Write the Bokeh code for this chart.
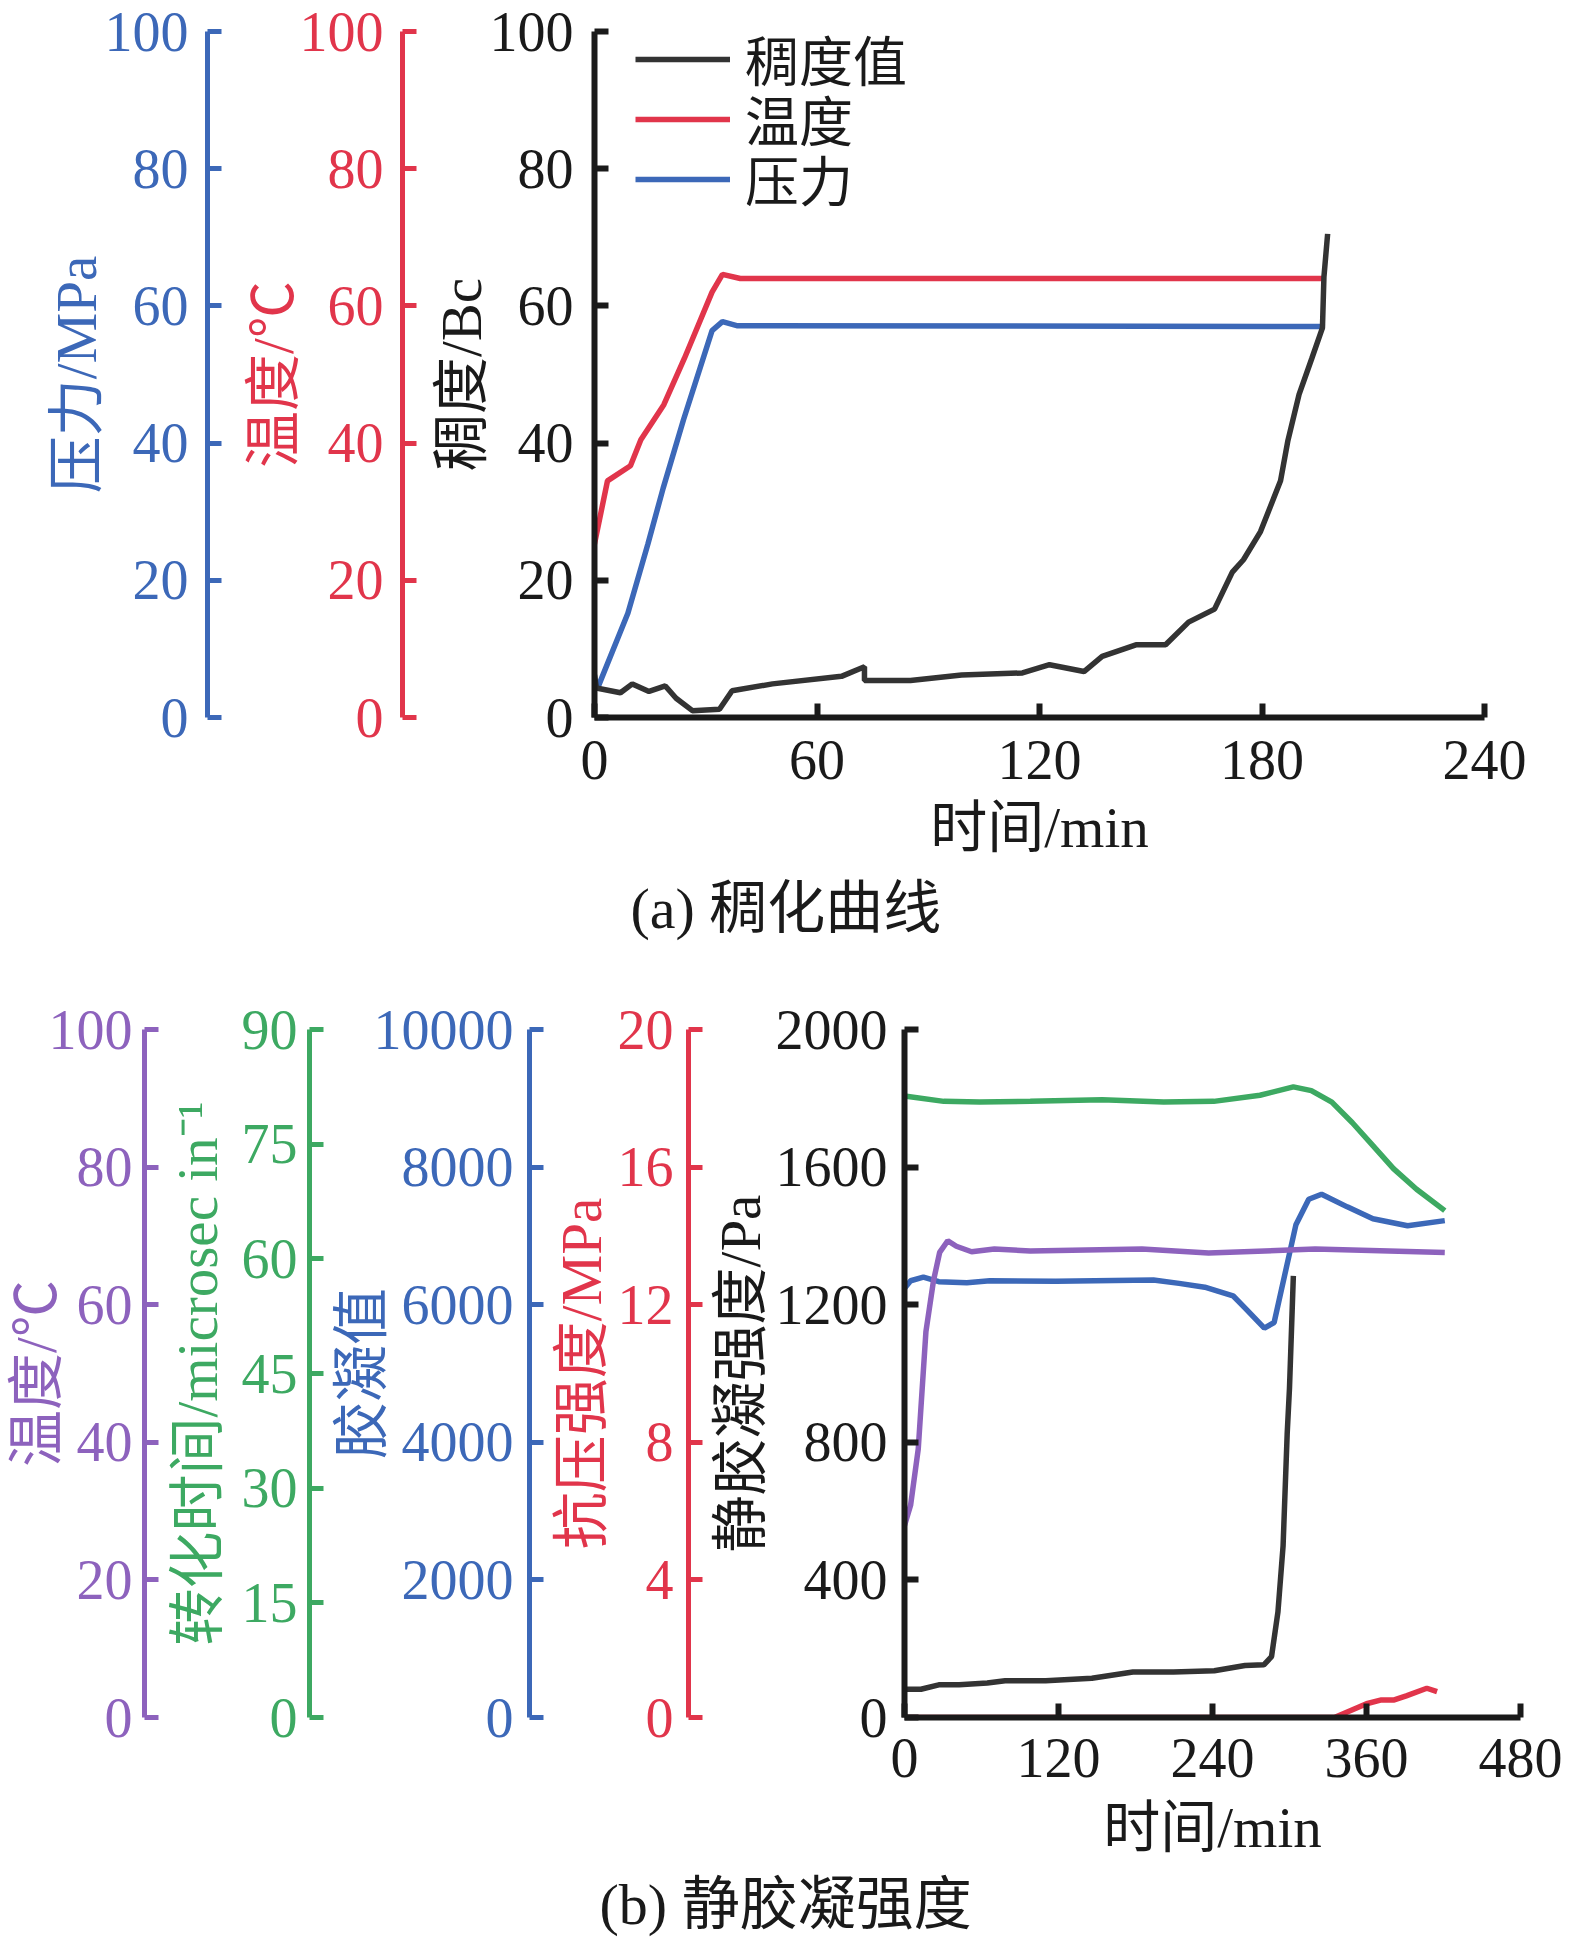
from bokeh.plotting import figure
from bokeh.models import LinearAxis, Range1d, FixedTicker, Legend, LegendItem, Title
from bokeh.embed import file_html
from bokeh.resources import INLINE

# ---------------- Panel (a) data: thickening curve ----------------
a_time_ticks = [0, 60, 120, 180, 240]
a_y_ticks = [0, 20, 40, 60, 80, 100]

cons_t = [0, 0.5, 7, 10.2, 14.7, 19.1, 22, 26.4, 33.7, 37.1, 48, 66.6, 72.8, 72.8, 85.2, 99,
          115.4, 122.7, 132, 136.9, 146, 154, 160.2, 167.2, 172, 175, 179.6, 185, 187, 190,
          193.4, 196.3, 196.7, 197.7]
cons_v = [6.2, 4.3, 3.6, 4.9, 3.8, 4.6, 2.8, 1.0, 1.2, 3.9, 4.9, 6.0, 7.4, 5.4, 5.4, 6.2,
          6.5, 7.7, 6.7, 8.9, 10.6, 10.6, 13.9, 15.8, 21.2, 23.0, 27.1, 34.5, 40.4, 47.1,
          52.3, 56.8, 64.2, 70.5]
temp_a_t = [0, 3.5, 9.7, 12.5, 18.7, 24.2, 31.7, 34.5, 39.3, 197]
temp_a_v = [25.3, 34.5, 36.7, 40.5, 45.6, 52.3, 62.0, 64.6, 64.0, 64.0]
pres_t = [1, 9, 14.4, 18.5, 24, 31.7, 34.5, 38.6, 197]
pres_v = [4.5, 15.2, 25.3, 33.4, 43.4, 56.4, 57.7, 57.1, 57.0]
a_legend_labels = ["稠度值", "温度", "压力"]

# ---------------- Panel (b) data: static gel strength ----------------
b_time_ticks = [0, 120, 240, 360, 480]
sgs_ticks = [0, 400, 800, 1200, 1600, 2000]
cs_ticks = [0, 4, 8, 12, 16, 20]
gel_ticks = [0, 2000, 4000, 6000, 8000, 10000]
tt_ticks = [0, 15, 30, 45, 60, 75, 90]
tb_ticks = [0, 20, 40, 60, 80, 100]

sgs_t = [0, 12.8, 26.7, 42.6, 64.5, 78.4, 110, 146, 178, 209.6, 241.4, 265.3, 280, 286,
         291, 295, 298.2, 300, 303]
sgs_v = [82, 82, 95, 95, 100, 107, 107, 114, 132, 132, 136, 151, 153, 177, 307, 499, 825,
         958, 1284]
tt_t = [0, 30.6, 58.5, 98, 154, 202, 241, 277, 303, 317, 333, 349, 365, 381, 399, 421]
tt_v = [81.3, 80.6, 80.5, 80.6, 80.8, 80.5, 80.6, 81.4, 82.5, 82.0, 80.5, 77.8, 74.8, 71.8,
        69.1, 66.3]
gel_t = [0, 4.8, 14.7, 26.7, 48.6, 66.5, 118, 194, 214, 234, 256, 266, 280.4, 288, 305, 315,
         325, 345, 365, 392, 421]
gel_v = [6237, 6348, 6400, 6334, 6320, 6348, 6340, 6360, 6310, 6255, 6130, 5940, 5660, 5740,
         7162, 7532, 7606, 7422, 7250, 7148, 7222]
tb_t = [0, 4.8, 10.7, 16.7, 22.6, 27.4, 33.7, 40.4, 52.3, 70, 98, 185, 237, 320, 421]
tb_v = [27.9, 30.9, 39.0, 56.1, 63.5, 67.6, 69.3, 68.5, 67.7, 68.1, 67.8, 68.1, 67.5, 68.1, 67.6]
cs_t = [0, 335, 360, 371.6, 381.6, 391, 407, 415]
cs_v = [0, 0, 0.40, 0.51, 0.51, 0.63, 0.85, 0.75]

# ---------------- styles ----------------
FONT = "'Liberation Serif', 'Noto Sans CJK SC'"
NUMFONT = "'Liberation Serif'"
AXBLACK = "#1a1a1a"
LINEBLACK = "#333333"
BLUE = "#3C68B8"
RED = "#E1354B"
PURPLE = "#8D62BD"
GREEN = "#3DA962"
TICK_FS = "56px"
LABEL_FS = "57px"
LW = 5.5


def style_axis(ax, color, lw, ticks, label, tick_standoff, label_standoff):
    ax.ticker = FixedTicker(ticks=ticks)
    ax.axis_line_color = color
    ax.axis_line_width = lw
    ax.major_tick_line_color = color
    ax.major_tick_line_width = lw
    ax.major_tick_in = 14
    ax.major_tick_out = 0
    ax.minor_tick_line_color = None
    ax.minor_tick_in = 0
    ax.minor_tick_out = 0
    ax.major_label_text_color = color
    ax.major_label_text_font = NUMFONT
    ax.major_label_text_font_size = TICK_FS
    ax.major_label_standoff = tick_standoff
    ax.axis_label = label
    ax.axis_label_text_color = color
    ax.axis_label_text_font = FONT
    ax.axis_label_text_font_size = LABEL_FS
    ax.axis_label_text_font_style = "normal"
    ax.axis_label_standoff = label_standoff


def spacer(w, rng):
    return LinearAxis(y_range_name=rng, ticker=FixedTicker(ticks=[0]),
                      major_label_overrides={0: ""}, major_label_text_font_size="1px",
                      axis_line_color=None, major_tick_line_color=None,
                      minor_tick_line_color=None, major_tick_out=w, major_tick_in=0,
                      minor_tick_out=0, minor_tick_in=0, major_label_standoff=0)


def base_fig(width, height, xr, yr, left, right, top, bottom):
    p = figure(width=width, height=height, x_range=xr, y_range=yr,
               output_backend="svg", toolbar_location=None,
               min_border_left=left, min_border_right=right,
               min_border_top=top, min_border_bottom=bottom)
    p.outline_line_color = None
    p.xgrid.visible = False
    p.ygrid.visible = False
    p.background_fill_color = None
    p.border_fill_color = None
    return p


def caption(p, text, offset, gap_font):
    # a tiny blank title first, as a vertical gap below the x axis
    p.add_layout(Title(text=" ", standoff=0, text_font_size=gap_font), "below")
    p.add_layout(Title(text=text, align="left", offset=offset, standoff=8,
                       text_font=FONT, text_font_size="58px", text_font_style="normal",
                       text_color=AXBLACK), "below")


# ---------------- Panel (a) ----------------
pa = base_fig(1570, 960, Range1d(0, 240), Range1d(0, 100), 594, 86, 31, 243)
pa.extra_y_ranges = {"temp": Range1d(0, 100), "pres": Range1d(0, 100)}

style_axis(pa.xaxis[0], AXBLACK, 6, a_time_ticks, "时间/min", 23, 14)
style_axis(pa.yaxis[0], AXBLACK, 6, a_y_ticks, "稠度/Bc", 21, -6)

pa.add_layout(spacer(24, "temp"), "left")
ax_temp_a = LinearAxis(y_range_name="temp")
style_axis(ax_temp_a, RED, 5, a_y_ticks, "温度/℃", 19, -8)
pa.add_layout(ax_temp_a, "left")
pa.add_layout(spacer(31, "pres"), "left")
ax_pres = LinearAxis(y_range_name="pres")
style_axis(ax_pres, BLUE, 5, a_y_ticks, "压力/MPa", 19, -6)
pa.add_layout(ax_pres, "left")

r_temp = pa.line(temp_a_t, temp_a_v, line_color=RED, line_width=LW, y_range_name="temp")
r_pres = pa.line(pres_t, pres_v, line_color=BLUE, line_width=LW, y_range_name="pres")
r_cons = pa.line(cons_t, cons_v, line_color=LINEBLACK, line_width=LW)

# one single-row legend per series so each row sits exactly where the reference has it
for lab, rend, ypos in zip(a_legend_labels, [r_cons, r_temp, r_pres], [619, 559, 499]):
    leg = Legend(items=[LegendItem(label=lab, renderers=[rend])],
                 location=(41, ypos), padding=0, margin=0, spacing=0,
                 glyph_width=95, glyph_height=46, label_height=46, label_standoff=15,
                 label_text_font=FONT, label_text_font_size="54px",
                 label_text_color=AXBLACK, border_line_color=None,
                 background_fill_alpha=0)
    pa.add_layout(leg)
caption(pa, "(a) 稠化曲线", 36, "5px")

# ---------------- Panel (b) ----------------
pb = base_fig(1570, 980, Range1d(0, 480), Range1d(0, 2000), 904, 50, 69, 222)
pb.extra_y_ranges = {"cs": Range1d(0, 20), "gel": Range1d(0, 10000),
                     "tt": Range1d(0, 90), "temp": Range1d(0, 100)}

style_axis(pb.xaxis[0], AXBLACK, 6, b_time_ticks, "时间/min", 21, 16)
style_axis(pb.yaxis[0], AXBLACK, 6, sgs_ticks, "静胶凝强度/Pa", 17, 1)

pb.add_layout(spacer(17, "cs"), "left")
ax_cs = LinearAxis(y_range_name="cs")
style_axis(ax_cs, RED, 5, cs_ticks, "抗压强度/MPa", 15, 2)
pb.add_layout(ax_cs, "left")
pb.add_layout(spacer(17, "gel"), "left")
ax_gel = LinearAxis(y_range_name="gel")
style_axis(ax_gel, BLUE, 5, gel_ticks, "胶凝值", 16, -22)
pb.add_layout(ax_gel, "left")
pb.add_layout(spacer(17, "tt"), "left")
ax_tt = LinearAxis(y_range_name="tt")
style_axis(ax_tt, GREEN, 5, tt_ticks, "转化时间/microsec in⁻¹", 12, 10)
pb.add_layout(ax_tt, "left")
pb.add_layout(spacer(18, "temp"), "left")
ax_tb = LinearAxis(y_range_name="temp")
style_axis(ax_tb, PURPLE, 5, tb_ticks, "温度/℃", 12, -22)
pb.add_layout(ax_tb, "left")

pb.line(cs_t, cs_v, line_color=RED, line_width=LW, y_range_name="cs")
pb.line(tt_t, tt_v, line_color=GREEN, line_width=LW, y_range_name="tt")
pb.line(gel_t, gel_v, line_color=BLUE, line_width=LW, y_range_name="gel")
pb.line(tb_t, tb_v, line_color=PURPLE, line_width=LW, y_range_name="temp")
pb.line(sgs_t, sgs_v, line_color=LINEBLACK, line_width=LW)
caption(pb, "(b) 静胶凝强度", -305, "2px")

with open("out.html", "w") as f:
    f.write(file_html([pa, pb], INLINE))
